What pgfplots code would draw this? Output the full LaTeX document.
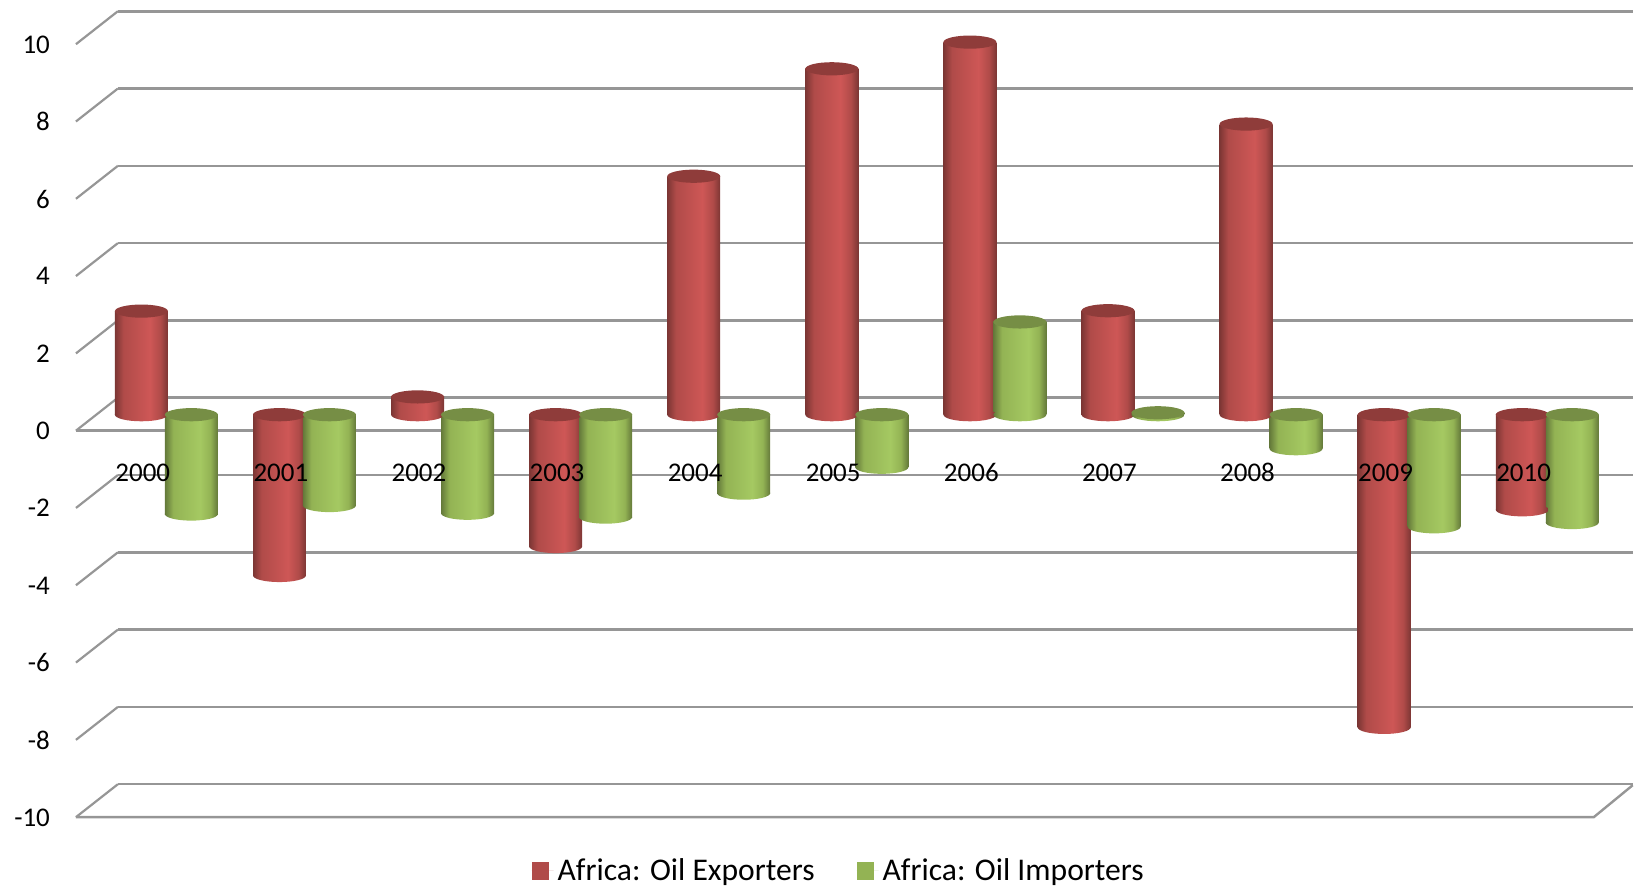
\documentclass[border=0pt]{standalone}
\usepackage{fontspec}
\setmainfont{Carlito}
\usepackage{pgfplots}
\usepackage{pgfplotstable}
\pgfplotsset{compat=1.18}

\definecolor{reddark}{HTML}{7C3634}
\definecolor{redmid}{HTML}{B04B49}
\definecolor{redlight}{HTML}{CE5756}
\definecolor{redtopc}{HTML}{8F3C3A}
\definecolor{greendark}{HTML}{64793A}
\definecolor{greenmid}{HTML}{93B354}
\definecolor{greenlight}{HTML}{A5C962}
\definecolor{greentopc}{HTML}{768E45}
\definecolor{gridgray}{HTML}{969696}

\pgfdeclarehorizontalshading{redcyl}{100bp}{color(0bp)=(reddark);color(25bp)=(reddark);color(33bp)=(redmid);color(58bp)=(redlight);color(68bp)=(redmid);color(75bp)=(reddark);color(100bp)=(reddark)}
\pgfdeclarehorizontalshading{greencyl}{100bp}{color(0bp)=(greendark);color(25bp)=(greendark);color(33bp)=(greenmid);color(58bp)=(greenlight);color(68bp)=(greenmid);color(75bp)=(greendark);color(100bp)=(greendark)}

% unit-less coordinates inside an axis mean axis cs, so these need pt
\pgfdeclareplotmark{redtop}{\path[draw=none,fill=redtopc,rotate=5] (0pt,0pt) ellipse [x radius=13.25pt,y radius=3.3pt];}
\pgfdeclareplotmark{greentop}{\path[draw=none,fill=greentopc,rotate=5] (0pt,0pt) ellipse [x radius=13.25pt,y radius=3.3pt];}
\pgfdeclareplotmark{redbot}{\path[draw=none,shading=redcyl,rotate=5] (0pt,0pt) ellipse [x radius=13.25pt,y radius=3.3pt];}
\pgfdeclareplotmark{greenbot}{\path[draw=none,shading=greencyl,rotate=5] (0pt,0pt) ellipse [x radius=13.25pt,y radius=3.3pt];}

% one plot per bar: a shading spans the whole path of a plot
\newcommand{\redbar}[2]{\addplot[ybar,forget plot,bar shift=-12.5pt,draw=none,shading=redcyl] coordinates {(#1,#2)};}
\newcommand{\greenbar}[2]{\addplot[ybar,forget plot,bar shift=12.5pt,draw=none,shading=greencyl] coordinates {(#1,#2)};}

\pgfplotstableread{
year red green
2000 2.68 -2.57
2001 -4.16 -2.35
2002 0.46 -2.55
2003 -3.41 -2.65
2004 6.17 -2.03
2005 8.95 -1.36
2006 9.64 2.40
2007 2.69 0.05
2008 7.52 -0.88
2009 -8.09 -2.90
2010 -2.46 -2.79
}\datatable

\begin{document}
\begin{tikzpicture}
\path (0pt,0pt) rectangle (817pt,444.5pt);
\begin{axis}[
    at={(59pt,0pt)},
    anchor=south west,
    scale only axis,
    width=758pt,
    height=444.5pt,
    clip=false,
    xmin=1999.649, xmax=2010.619,
    ymin=-12.254, ymax=10.73,
    axis line style={draw=none},
    tick style={draw=none},
    xtick=\empty,
    ytick={-10,-8,...,10},
    /pgf/number format/assume math mode=true,
    yticklabel style={anchor=east,font=\fontsize{13.5}{15}\selectfont,xshift=-30.5pt,yshift=-8.1pt},
    ytick pos=left,
    ymajorgrids,
    major grid style={draw=gridgray,line width=1.3pt,yshift=8.5pt},
    bar width=26.5pt,
    legend style={at={(0.4765,0.0195)},anchor=center,draw=none,fill=none,inner ysep=0pt,
        nodes={inner ysep=0pt},
        font=\fontsize{15.8}{17}\selectfont,legend columns=2,
        /tikz/every even column/.append style={column sep=19pt}},
    legend image code/.code={\fill[#1] (0pt,-4.4pt) rectangle (8.8pt,4.4pt); \path (0pt,0pt) -- (11pt,0pt);},
]
\addlegendimage{fill=redmid,draw=none}
\addlegendentry{Africa: Oil Exporters}
\addlegendimage{fill=greenmid,draw=none}
\addlegendentry{Africa: Oil Importers}

% side wall and floor edges
\pgfplotsinvokeforeach{-10,-8,...,10}{
    \draw[gridgray,line width=1.1pt] (axis cs:1999.649,#1) ++(0pt,8.5pt) -- ++(-21pt,-16.5pt);
}
\draw[gridgray,line width=1.2pt] (axis cs:1999.649,0) ++(-21pt,-8pt) -- ++(759.5pt,0pt);
\draw[gridgray,line width=1.2pt] (axis cs:1999.649,-10) ++(-21pt,-8pt) -- ++(759.5pt,0pt) -- ++(19.5pt,16pt);

% exporters
\addplot[only marks,forget plot,mark=redbot,mark options={xshift=-12.5pt}] table[x=year,y expr={min(\thisrow{red},0)}] {\datatable};
\redbar{2000}{2.68}
\redbar{2001}{-4.16}
\redbar{2002}{0.46}
\redbar{2003}{-3.41}
\redbar{2004}{6.17}
\redbar{2005}{8.95}
\redbar{2006}{9.64}
\redbar{2007}{2.69}
\redbar{2008}{7.52}
\redbar{2009}{-8.09}
\redbar{2010}{-2.46}
\addplot[only marks,forget plot,mark=redtop,mark options={xshift=-12.5pt}] table[x=year,y expr={max(\thisrow{red},0)}] {\datatable};
% importers
\addplot[only marks,forget plot,mark=greenbot,mark options={xshift=12.5pt}] table[x=year,y expr={min(\thisrow{green},0)}] {\datatable};
\greenbar{2000}{-2.57}
\greenbar{2001}{-2.35}
\greenbar{2002}{-2.55}
\greenbar{2003}{-2.65}
\greenbar{2004}{-2.03}
\greenbar{2005}{-1.36}
\greenbar{2006}{2.40}
\greenbar{2007}{0.05}
\greenbar{2008}{-0.88}
\greenbar{2009}{-2.90}
\greenbar{2010}{-2.79}
\addplot[only marks,forget plot,mark=greentop,mark options={xshift=12.5pt}] table[x=year,y expr={max(\thisrow{green},0)}] {\datatable};

% year labels sit on top of the bars
\pgfplotsinvokeforeach{2000,...,2010}{
    \node[font=\fontsize{13.5}{15}\selectfont,xshift=-11.8pt] at (axis cs:#1,-1.5) {#1};
}
\end{axis}
\end{tikzpicture}
\end{document}
